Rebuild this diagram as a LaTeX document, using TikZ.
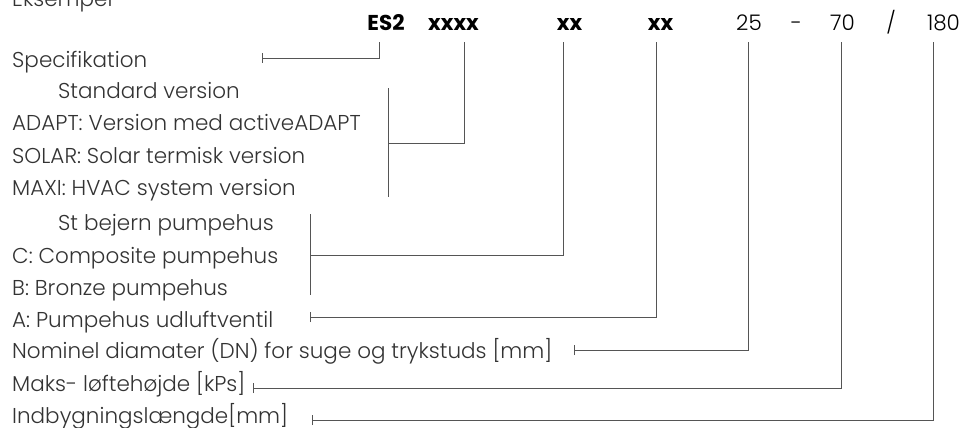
\documentclass[tikz,border=0pt]{standalone}
\usepackage{fontspec}
\setmainfont{Poppins}[UprightFont={* Light}, BoldFont={* Bold}]
\usetikzlibrary{arrows.meta}
\definecolor{txt}{HTML}{333333}
\definecolor{ln}{HTML}{555555}
\begin{document}
\begin{tikzpicture}[x=1pt,y=-1pt,
  lbl/.style={anchor=base west,inner sep=0pt,text=txt,font=\fontsize{21.5}{24}\selectfont},
  hdr/.style={anchor=base,inner sep=0pt,text=black,font=\fontsize{21.5}{24}\selectfont\bfseries},
  hdrl/.style={anchor=base,inner sep=0pt,text=black,font=\fontsize{21.5}{24}\selectfont},
  conn/.style={draw=ln,line width=0.9pt},
  tick/.style={conn,{Bar[width=10pt,line width=0.9pt]}-}]
\useasboundingbox (0,0) rectangle (961,428);
% header
\node[hdr] (h1) at (386,31) {ES2};
\node[hdr] (h2) at (453.5,31) {xxxx};
\node[hdr] (h3) at (569.5,31) {xx};
\node[hdr] (h4) at (660.5,31) {xx};
\node[hdrl] (h5) at (749,31) {25};
\node[hdrl] (h6) at (796.5,31) {-};
\node[hdrl] (h7) at (842.5,31) {70};
\node[hdrl] (h8) at (891,31) {/};
\node[hdrl] (h9) at (943.5,31) {180};
% labels
\node[lbl] (eks) at (12,7) {Eksempel};
\node[lbl] (spec) at (12,67) {Specifikation};
\node[lbl] (std) at (58,98) {Standard version};
\node[lbl] (adapt) at (12,130) {ADAPT: Version med activeADAPT};
\node[lbl] (solar) at (12,163) {SOLAR: Solar termisk version};
\node[lbl] (maxi) at (12,195) {MAXI: HVAC system version};
\node[lbl] (stb) at (58,230) {St bejern pumpehus};
\node[lbl] (comp) at (12,263) {C: Composite pumpehus};
\node[lbl] (bron) at (12,295) {B: Bronze pumpehus};
\node[lbl] (pump) at (12,327) {A: Pumpehus udluftventil};
\node[lbl] (nom) at (12,358) {Nominel diamater (DN) for suge og trykstuds [mm]};
\node[lbl] (maks) at (12,391) {Maks- løftehøjde [kPs]};
\node[lbl] (indb) at (12,423) {Indbygningslængde[mm]};
% connector ends
\coordinate (t1) at (379,42);
\coordinate (t2) at (464,42);
\coordinate (t3) at (563,42);
\coordinate (t4) at (656,42);
\coordinate (t5) at (748,42);
\coordinate (t7) at (841,42);
\coordinate (t9) at (933,42);
\coordinate (a1) at (262,58);
\coordinate (b2top) at (388,88);
\coordinate (b2bot) at (388,197);
\coordinate (b2mid) at (388,143);
\coordinate (b3top) at (310,214);
\coordinate (b3bot) at (310,295);
\coordinate (b3mid) at (310,255);
\coordinate (a4) at (310,317);
\coordinate (a5) at (574,350);
\coordinate (a7) at (253,388);
\coordinate (a9) at (312,420);
% connectors
\draw[tick] (a1) -| (t1);
\draw[conn] (b2top) -- (b2bot);
\draw[conn] (b2mid) -| (t2);
\draw[conn] (b3top) -- (b3bot);
\draw[conn] (b3mid) -| (t3);
\draw[tick] (a4) -| (t4);
\draw[tick] (a5) -| (t5);
\draw[tick] (a7) -| (t7);
\draw[tick] (a9) -| (t9);
\end{tikzpicture}
\end{document}
